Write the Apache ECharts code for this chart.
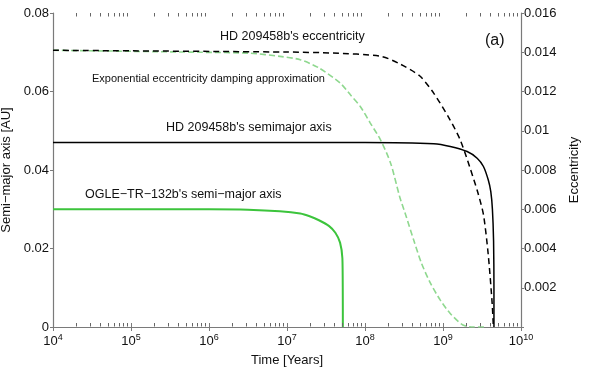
<!DOCTYPE html>
<html>
<head>
<meta charset="utf-8">
<script src="https://cdn.jsdelivr.net/npm/echarts@6/dist/echarts.min.js"></script>
<style>
  html, body { margin: 0; padding: 0; background: #fff; }
  #chart { width: 600px; height: 378px; }
</style>
</head>
<body>
<div id="chart"></div>
<script>
// time in years
var ogleT = [1e4, 1e6, 3.16e6, 8.1e6, 1.48e7, 1.95e7, 2.57e7, 3.47e7, 4.17e7, 4.79e7, 5.13e7, 5.19e7, 5.2e7];
var ogleA = [0.0300, 0.0300, 0.0299, 0.0295, 0.0289, 0.0282, 0.0272, 0.0257, 0.0240, 0.0215, 0.0175, 0.008, 0];

var hdT = [1e4, 1e8, 7.6e8, 1.24e9, 2.04e9, 2.74e9, 3.3e9, 3.8e9, 4.1e9, 4.3e9, 4.45e9, 4.5e9, 4.5e9];
var hdA = [0.0470, 0.0470, 0.0467, 0.0460, 0.0447, 0.0430, 0.0409, 0.0375, 0.0345, 0.0300, 0.0220, 0.010, 0];

var hdEccT = [1e4, 1e7, 3.9e7, 1.58e8, 2.82e8, 5.01e8, 7.59e8, 1.23e9, 1.66e9, 2.19e9, 2.82e9, 3.31e9, 3.8e9, 4.27e9, 4.42e9];
var hdEcc = [0.0141, 0.01401, 0.01396, 0.0138, 0.0134, 0.0128, 0.01192, 0.01056, 0.00954, 0.00818, 0.0068, 0.0057, 0.0037, 0.0012, 0];

var expT = [1e4, 7.6e5, 3.4e6, 8.1e6, 1.48e7, 2.6e7, 4.8e7, 6.5e7, 8.7e7, 1.17e8, 1.58e8, 2.13e8, 2.8e8, 3.27e8, 4.2e8, 5.3e8, 6.9e8, 9.2e8, 1.23e9, 1.8e9, 2.45e9, 3.5e9];
var expEcc = [0.0141, 0.0140, 0.01395, 0.01379, 0.01362, 0.01319, 0.01243, 0.01183, 0.01124, 0.01039, 0.00954, 0.00835, 0.0066, 0.0058, 0.00444, 0.00325, 0.00223, 0.00138, 0.0007, 0.0001, 0, 0];

// minor tick positions of the log axis (2..9 x 10^n)
var minorTicks = [];
for (var n = 4; n < 10; n++) {
  for (var k = 2; k < 10; k++) minorTicks.push([k * Math.pow(10, n), 0]);
}

function zip(xs, ys) {
  return xs.map(function (x, i) { return [x, ys[i]]; });
}

var axisCol = "#7a7a7a";
var font = "Liberation Sans, Arial, sans-serif";

// little inside tick on the bottom (top=false) or top frame edge
// (polyline, a plain "line" element at the bottom edge did not show up)
function minorTickSeries(top) {
  return {
    type: "custom",
    xAxisIndex: 0,
    yAxisIndex: 0,
    data: minorTicks,
    silent: true,
    clip: false,
    renderItem: function (params, api) {
      var x = Math.round(api.coord([api.value(0), 0])[0]) + 0.5;
      var cs = params.coordSys;
      var y0 = top ? cs.y : cs.y + cs.height - 0.5;
      var y1 = top ? y0 + 3.5 : y0 - 3.5;
      return {
        type: "polyline",
        shape: { points: [[x, y0], [x, y1]] },
        style: { stroke: "#666", lineWidth: 1, fill: null }
      };
    },
    z: 20
  };
}

var chart = echarts.init(document.getElementById("chart"));
chart.setOption({
  animation: false,
  grid: { left: 53, right: 79, top: 13, bottom: 51, outerBoundsMode: "none", containLabel: false },
  xAxis: [
    {
      type: "log",
      logBase: 10,
      min: 1e4,
      max: 1e10,
      position: "bottom",
      name: "Time [Years]",
      nameLocation: "middle",
      nameGap: 27,
      nameTextStyle: { fontFamily: font, fontSize: 13, color: "#111" },
      axisLine: { lineStyle: { color: axisCol, width: 1.2 } },
      axisTick: { inside: true, length: 4, lineStyle: { color: axisCol } },
      splitLine: { show: false },
      axisLabel: {
        margin: 6,
        fontFamily: font,
        color: "#111",
        formatter: function (v) {
          return "{b|10}{s|" + Math.round(Math.log10(v)) + "}";
        },
        rich: {
          b: { fontSize: 13, fontFamily: font, color: "#111" },
          s: { fontSize: 9, fontFamily: font, color: "#111", verticalAlign: "top", padding: [0, 0, 8, 0] }
        }
      }
    },
    {
      type: "log",
      logBase: 10,
      min: 1e4,
      max: 1e10,
      position: "top",
      axisLine: { lineStyle: { color: axisCol, width: 1.2 } },
      axisTick: { inside: true, length: 4, lineStyle: { color: axisCol } },
      axisLabel: { show: false },
      splitLine: { show: false }
    }
  ],
  yAxis: [
    {
      type: "value",
      min: 0,
      max: 0.08,
      interval: 0.02,
      name: "Semi\u2212major axis [AU]",
      nameLocation: "middle",
      nameGap: 32,
      nameTextStyle: { fontFamily: font, fontSize: 13, color: "#111" },
      axisLine: { show: true, lineStyle: { color: axisCol, width: 1.2 } },
      axisTick: { show: true, length: 3, lineStyle: { color: axisCol } },
      splitLine: { show: false },
      axisLabel: { margin: 4, fontFamily: font, fontSize: 13, color: "#111" }
    },
    {
      type: "value",
      min: 0,
      max: 0.016,
      interval: 0.002,
      position: "right",
      name: "Eccentricity",
      nameLocation: "middle",
      nameGap: 42,
      nameRotate: 90,
      nameTextStyle: { fontFamily: font, fontSize: 13, color: "#111" },
      axisLine: { show: true, lineStyle: { color: axisCol, width: 1.2 } },
      axisTick: { show: true, length: 3, lineStyle: { color: axisCol } },
      splitLine: { show: false },
      axisLabel: {
        margin: 3,
        fontFamily: font,
        fontSize: 13,
        color: "#111",
        formatter: function (v) { return v === 0 ? "" : String(+v.toFixed(3)); }
      }
    }
  ],
  series: [
    {
      name: "exp",
      type: "line",
      yAxisIndex: 1,
      data: zip(expT, expEcc),
      symbol: "none",
      smooth: 0.25,
      lineStyle: { color: "#8fd88f", width: 1.6, type: [6, 3] },
      z: 2
    },
    {
      name: "hdEcc",
      type: "line",
      yAxisIndex: 1,
      data: zip(hdEccT, hdEcc),
      symbol: "none",
      smooth: 0.25,
      lineStyle: { color: "#000", width: 1.5, type: [6, 4] },
      z: 3
    },
    {
      name: "hdA",
      type: "line",
      yAxisIndex: 0,
      data: zip(hdT, hdA),
      symbol: "none",
      smooth: 0.25,
      lineStyle: { color: "#000", width: 1.5 },
      z: 3
    },
    {
      name: "ogle",
      type: "line",
      yAxisIndex: 0,
      data: zip(ogleT, ogleA),
      symbol: "none",
      smooth: 0.25,
      lineStyle: { color: "#3cc43c", width: 2 },
      z: 3
    },
    minorTickSeries(false),
    minorTickSeries(true)
  ],
  graphic: [
    { type: "text", left: 220, top: 30, style: { text: "HD 209458b's eccentricity", font: "12.5px " + font, fill: "#111" } },
    { type: "text", left: 92, top: 73, style: { text: "Exponential eccentricity damping approximation", font: "11px " + font, fill: "#111" } },
    { type: "text", left: 166, top: 121, style: { text: "HD 209458b's semimajor axis", font: "12.5px " + font, fill: "#111" } },
    { type: "text", left: 85, top: 188, style: { text: "OGLE\u2212TR\u2212132b's semi\u2212major axis", font: "12.5px " + font, fill: "#111" } },
    { type: "text", left: 485, top: 33, style: { text: "(a)", font: "16px " + font, fill: "#111" } }
  ]
});
</script>
</body>
</html>
